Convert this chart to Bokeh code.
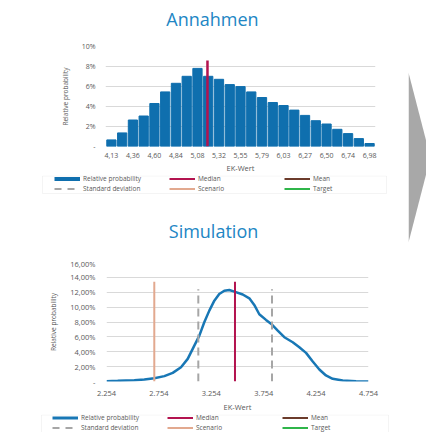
from bokeh.plotting import figure
from bokeh.layouts import column, row
from bokeh.models import (FixedTicker, Legend, LegendItem, Range1d, Label,
                          NumeralTickFormatter, BoxAnnotation)
from bokeh.embed import file_html
from bokeh.resources import INLINE

FONT = "Open Sans"
TXT = "#595959"
GRID = "#d9d9d9"
BLUE = "#0f6fae"
CURVE = "#1877b5"
MEDIAN_C = "#b3134f"
SCEN_C = "#e2a98f"
MEAN_C = "#6b3b2b"
TARGET_C = "#2fb54a"
STD_C = "#a6a6a6"
TITLE_C = "#2186c4"
NAN = float("nan")

# ---------------- data: Annahmen ----------------
top_title = "Annahmen"
top_tick_labels = ["4,13", "4,36", "4,60", "4,84", "5,08", "5,32", "5,55",
                   "5,79", "6,03", "6,27", "6,50", "6,74", "6,98"]
top_probs = [0.66, 1.36, 2.65, 3.05, 4.30, 5.46, 6.32, 7.02, 7.81, 7.02, 6.72,
             6.19, 5.99, 5.46, 4.90, 4.40, 4.10, 3.64, 3.11, 2.58, 2.25, 1.72,
             1.29, 0.79, 0.30]
top_median_bin = 8.93
top_median_top = 8.6
top_y_ticks = [0, 2, 4, 6, 8, 10]
top_y_labels = ["-", "2%", "4%", "6%", "8%", "10%"]

# ---------------- data: Simulation ----------------
sim_title = "Simulation"
sim_x = [2.254, 2.361, 2.519, 2.615, 2.710, 2.806, 2.886, 2.965, 3.029, 3.092,
         3.140, 3.187, 3.235, 3.283, 3.330, 3.378, 3.426, 3.474, 3.554, 3.617,
         3.664, 3.712, 3.776, 3.833, 3.888, 3.951, 4.031, 4.094, 4.158, 4.222,
         4.285, 4.348, 4.412, 4.508, 4.635, 4.754]
sim_y = [0.04, 0.09, 0.18, 0.27, 0.45, 0.72, 1.16, 1.92, 3.04, 4.83,
         6.17, 7.96, 9.53, 10.87, 11.77, 12.21, 12.30, 12.08, 11.70, 11.18,
         10.29, 9.04, 8.28, 7.65, 6.85, 5.95, 5.28, 4.61, 3.85, 2.68,
         1.61, 0.81, 0.36, 0.13, 0.04, 0.0]
sim_x_ticks = [2.254, 2.754, 3.254, 3.754, 4.254, 4.754]
sim_y_ticks = [0, 2, 4, 6, 8, 10, 12, 14, 16]
sim_y_labels = ["-", "2,00%", "4,00%", "6,00%", "8,00%", "10,00%", "12,00%",
                "14,00%", "16,00%"]
sim_median = 3.480
sim_scenario = 2.710
sim_std = [3.130, 3.833]
sim_marker_top = 13.4
sim_std_top = 12.4

legend_labels = ["Relative probability", "Median", "Mean",
                 "Standard deviation", "Scenario", "Target"]
axis_title_x = "EK-Wert"
axis_title_y = "Relative probability"

# decorative arrow on the right (arrow-panel units)
arrow_x = [0, 1.22, 0]
arrow_y = [72, 157, 242]

LEFT_W = 408


def blank(h):
    p = figure(width=LEFT_W, height=h, output_backend="svg", toolbar_location=None,
               x_range=Range1d(0, 1), y_range=Range1d(0, 1),
               x_axis_location=None, y_axis_location=None,
               min_border=0, min_border_left=0, min_border_right=0,
               min_border_top=0, min_border_bottom=0, frame_align=False)
    p.grid.visible = False
    p.outline_line_color = None
    return p


def add_title(p, text, x, y):
    p.add_layout(Label(x=x, y=y, x_units="screen", y_units="screen",
                       text=text, text_align="center", text_baseline="middle",
                       text_font=FONT, text_font_size="18px", text_color=TITLE_C))


def add_legend(p, rel_width, rel_color, vx, vy, box):
    left, right, bottom, top_ = box
    p.add_layout(BoxAnnotation(left=left, right=right, bottom=bottom, top=top_,
                               left_units="screen", right_units="screen",
                               bottom_units="screen", top_units="screen",
                               fill_alpha=0, line_color=GRID, line_width=1))
    styles = [(rel_color, rel_width, "solid"), (MEDIAN_C, 2, "solid"),
              (MEAN_C, 2, "solid"), (STD_C, 2, "7 6"), (SCEN_C, 2, "solid"),
              (TARGET_C, 2, "solid")]
    rs = [p.line([NAN], [NAN], line_color=c, line_width=w, line_dash=d)
          for c, w, d in styles]
    items = [LegendItem(label=l, renderers=[r]) for l, r in zip(legend_labels, rs)]
    lg = Legend(items=items, location=(vx, vy), orientation="horizontal", ncols=3,
                label_text_font=FONT, label_text_font_size="6.5px",
                label_text_color=TXT, glyph_width=26, glyph_height=7,
                label_height=7, label_standoff=3, label_width=85, spacing=1,
                padding=1, margin=0, border_line_color=None,
                background_fill_alpha=0)
    p.add_layout(lg)


def style(p, tick_size, label_size):
    p.outline_line_color = None
    p.xgrid.grid_line_color = None
    p.ygrid.grid_line_color = GRID
    for ax in (p.xaxis[0], p.yaxis[0]):
        ax.axis_line_color = None
        ax.major_tick_line_color = None
        ax.minor_tick_line_color = None
        ax.major_tick_out = 0
        ax.major_tick_in = 0
        ax.minor_tick_out = 0
        ax.major_label_text_font = FONT
        ax.major_label_text_font_size = tick_size
        ax.major_label_text_color = TXT
        ax.axis_label_text_font = FONT
        ax.axis_label_text_font_size = label_size
        ax.axis_label_text_font_style = "normal"
        ax.axis_label_text_color = TXT


# ---------------- title 1 ----------------
t1 = blank(38)
add_title(t1, top_title, 212, 20)

# ---------------- top chart ----------------
nb = len(top_probs)
top = figure(width=LEFT_W, height=137, output_backend="svg", toolbar_location=None,
             x_range=Range1d(-0.55, nb - 0.45), y_range=Range1d(0, 10),
             min_border_left=105, min_border_right=33, min_border_top=8,
             min_border_bottom=28, frame_align=False)
top.vbar(x=list(range(nb)), top=top_probs, width=0.86, color=BLUE)
top.line([top_median_bin, top_median_bin], [0, top_median_top],
         line_color=MEDIAN_C, line_width=2.5)
style(top, "7px", "7.5px")
top.xaxis.ticker = FixedTicker(ticks=list(range(0, nb, 2)))
top.xaxis.major_label_overrides = {i * 2: t for i, t in enumerate(top_tick_labels)}
top.xaxis.major_label_standoff = 6
top.xaxis.axis_label = axis_title_x
top.xaxis.axis_label_standoff = 2
top.yaxis.ticker = FixedTicker(ticks=top_y_ticks)
top.yaxis.major_label_overrides = dict(zip(top_y_ticks, top_y_labels))
top.yaxis.major_label_standoff = 10
top.yaxis.axis_label = axis_title_y
top.yaxis.axis_label_text_font_size = "6.5px"
top.yaxis.axis_label_standoff = 9

# ---------------- middle: legend 1 + title 2 ----------------
mid = blank(83)
add_legend(mid, 4, BLUE, 54, 65, (42, 386, 65, 82.5))
add_title(mid, sim_title, 213, 28)

# ---------------- bottom chart ----------------
bot = figure(width=LEFT_W, height=156, output_backend="svg", toolbar_location=None,
             x_range=Range1d(sim_x_ticks[0], sim_x_ticks[-1]), y_range=Range1d(0, 16),
             min_border_left=106, min_border_right=40, min_border_top=4,
             min_border_bottom=33, frame_align=False)
bot.line(sim_x, sim_y, line_color=CURVE, line_width=2.5)
bot.line([sim_scenario, sim_scenario], [0, sim_marker_top],
         line_color=SCEN_C, line_width=2)
bot.multi_line([[s, s] for s in sim_std], [[0, sim_std_top]] * len(sim_std),
               line_color=STD_C, line_width=2, line_dash="8 5")
bot.line([sim_median, sim_median], [0, sim_marker_top],
         line_color=MEDIAN_C, line_width=2)
style(bot, "7.5px", "7.5px")
bot.xaxis.ticker = FixedTicker(ticks=sim_x_ticks)
bot.xaxis.formatter = NumeralTickFormatter(format="0.000")
bot.xaxis.major_label_standoff = 9
bot.xaxis.axis_label = axis_title_x
bot.xaxis.axis_label_standoff = 3
bot.yaxis.ticker = FixedTicker(ticks=sim_y_ticks)
bot.yaxis.major_label_overrides = dict(zip(sim_y_ticks, sim_y_labels))
bot.yaxis.major_label_standoff = 11
bot.yaxis.axis_label = axis_title_y
bot.yaxis.axis_label_text_font_size = "6.5px"
bot.yaxis.axis_label_standoff = 9

# ---------------- legend 2 ----------------
leg2 = blank(18)
add_legend(leg2, 3, CURVE, 52, 0, (41, 388, -3, 17.5))

# ---------------- arrow ----------------
arr = figure(width=18, height=432, output_backend="svg", toolbar_location=None,
             x_range=Range1d(0, 1), y_range=Range1d(432, 0),
             x_axis_location=None, y_axis_location=None,
             min_border=0, min_border_left=0, min_border_right=0,
             min_border_top=0, min_border_bottom=0, frame_align=False)
arr.patch(arrow_x, arrow_y, color="#a8a8a8", line_width=0)
arr.grid.visible = False
arr.outline_line_color = None

layout = row(column(t1, top, mid, bot, leg2), arr)
open("out.html", "w").write(file_html(layout, INLINE))
